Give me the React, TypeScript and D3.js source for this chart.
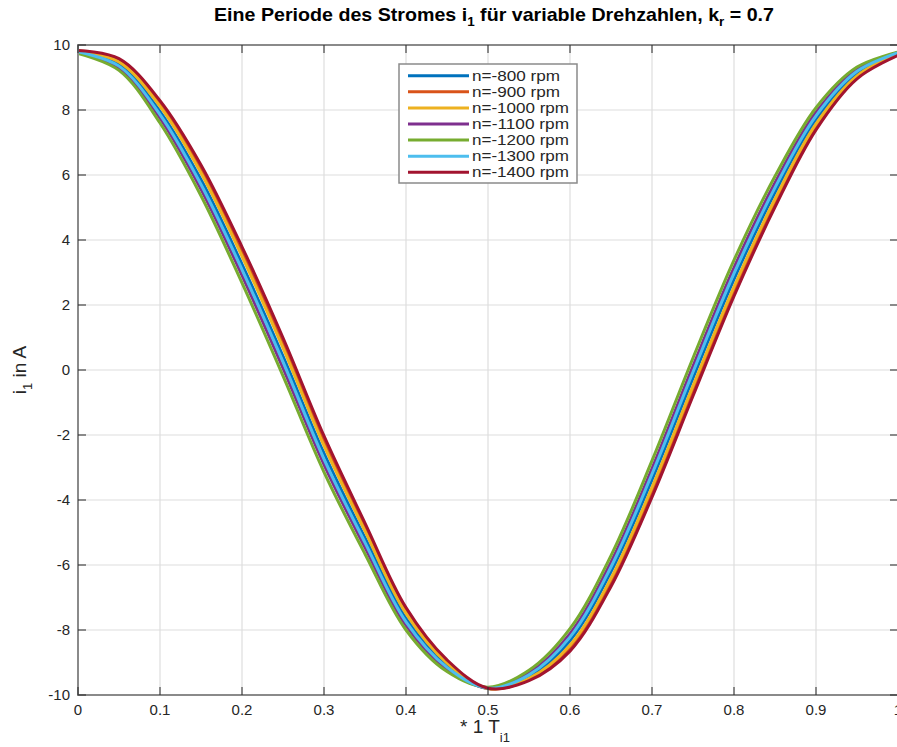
import React from 'react';
import * as d3 from 'd3';

// Time axis (fraction of one period T_i1)
const tValues = [0, 0.05, 0.1, 0.15, 0.2, 0.25, 0.3, 0.35, 0.4, 0.45, 0.5, 0.55, 0.6, 0.65, 0.7, 0.75, 0.8, 0.85, 0.9, 0.95, 1.0];

const speedLabels = ['n=-800 rpm', 'n=-900 rpm', 'n=-1000 rpm', 'n=-1100 rpm', 'n=-1200 rpm', 'n=-1300 rpm', 'n=-1400 rpm'];
const seriesColors = ['#0072BD', '#D95319', '#EDB120', '#7E2F8E', '#77AC30', '#4DBEEE', '#A2142F'];

const i800 = [9.80, 9.41, 7.96, 5.86, 3.26, 0.43, -2.56, -5.16, -7.64, -9.09, -9.80, -9.44, -8.33, -6.21, -3.38, -0.25, 2.79, 5.46, 7.71, 9.13, 9.75];
const i900 = [9.82, 9.52, 8.18, 6.16, 3.61, 0.80, -2.21, -4.86, -7.42, -8.98, -9.80, -9.52, -8.54, -6.51, -3.73, -0.62, 2.44, 5.16, 7.49, 9.02, 9.71];
const i1000 = [9.81, 9.48, 8.11, 6.06, 3.50, 0.68, -2.33, -4.96, -7.49, -9.02, -9.80, -9.49, -8.47, -6.41, -3.61, -0.49, 2.56, 5.26, 7.57, 9.05, 9.73];
const i1100 = [9.78, 9.30, 7.75, 5.56, 2.91, 0.06, -2.91, -5.46, -7.86, -9.21, -9.78, -9.32, -8.11, -5.91, -3.03, 0.12, 3.15, 5.76, 7.93, 9.25, 9.77];
const i1200 = [9.74, 9.22, 7.60, 5.36, 2.68, -0.18, -3.14, -5.66, -8.00, -9.28, -9.76, -9.24, -7.96, -5.71, -2.79, 0.37, 3.38, 5.96, 8.07, 9.32, 9.78];
const i1300 = [9.79, 9.35, 7.86, 5.71, 3.09, 0.25, -2.74, -5.31, -7.75, -9.15, -9.79, -9.38, -8.22, -6.06, -3.20, -0.06, 2.97, 5.61, 7.82, 9.19, 9.76];
const i1400 = [9.83, 9.58, 8.29, 6.31, 3.79, 0.99, -2.03, -4.71, -7.31, -8.92, -9.79, -9.56, -8.65, -6.66, -3.91, -0.80, 2.27, 5.01, 7.39, 8.96, 9.68];

const seriesValues = [i800, i900, i1000, i1100, i1200, i1300, i1400];

const xTicks = [0, 0.1, 0.2, 0.3, 0.4, 0.5, 0.6, 0.7, 0.8, 0.9, 1];
const xTickLabels = ['0', '0.1', '0.2', '0.3', '0.4', '0.5', '0.6', '0.7', '0.8', '0.9', '1'];
const yTicks = [-10, -8, -6, -4, -2, 0, 2, 4, 6, 8, 10];
const yTickLabels = ['-10', '-8', '-6', '-4', '-2', '0', '2', '4', '6', '8', '10'];

const W = 897;
const H = 747;
const L = 78;
const R = 898;
const T = 45;
const B = 695;
const FONT = "'Liberation Sans', Arial, Helvetica, sans-serif";
const TXT = '#262626';

export default function App() {
  const x = d3.scaleLinear().domain([0, 1]).range([L, R]);
  const y = d3.scaleLinear().domain([-10, 10]).range([B, T]);
  const line = d3
    .line<number>()
    .x((_, k) => x(tValues[k]))
    .y((d) => y(d))
    .curve(d3.curveCatmullRom.alpha(0.5));

  const tickLen = 8;
  const legX = 399;
  const legY = 64;
  const legW = 178;
  const legH = 119;
  const rowY = (k: number) => 75.7 + k * 16.1;

  return (
    <svg
      width={W}
      height={H}
      viewBox={`0 0 ${W} ${H}`}
      style={{ position: 'absolute', left: 0, top: 0, background: '#fff' }}
      fontFamily={FONT}
    >
      <defs>
        <clipPath id="plotClip">
          <rect x={L} y={T - 3} width={R - L} height={B - T + 6} />
        </clipPath>
      </defs>
      <rect x={0} y={0} width={W} height={H} fill="#fff" />

      {/* grid */}
      <g stroke="#dedede" strokeWidth={1.2}>
        {xTicks.map((t) => (
          <line key={'gx' + t} x1={x(t)} x2={x(t)} y1={T} y2={B} />
        ))}
        {yTicks.map((v) => (
          <line key={'gy' + v} x1={L} x2={R} y1={y(v)} y2={y(v)} />
        ))}
      </g>

      {/* curves */}
      <g clipPath="url(#plotClip)" fill="none" strokeWidth={3} strokeLinejoin="round" strokeLinecap="round">
        {seriesValues.map((vals, k) => (
          <path key={'s' + k} d={line(vals) || ''} stroke={seriesColors[k]} />
        ))}
      </g>

      {/* axes box */}
      <rect x={L} y={T} width={R - L} height={B - T} fill="none" stroke="#8a8a8a" strokeWidth={2} />

      {/* ticks */}
      <g stroke={TXT} strokeWidth={1}>
        {xTicks.map((t) => (
          <g key={'tx' + t}>
            <line x1={x(t)} x2={x(t)} y1={B} y2={B - tickLen} />
            <line x1={x(t)} x2={x(t)} y1={T} y2={T + tickLen} />
          </g>
        ))}
        {yTicks.map((v) => (
          <g key={'ty' + v}>
            <line x1={L} x2={L + tickLen} y1={y(v)} y2={y(v)} />
            <line x1={R} x2={R - tickLen} y1={y(v)} y2={y(v)} />
          </g>
        ))}
      </g>

      {/* tick labels */}
      <g fill={TXT} fontSize={15}>
        {xTicks.map((t, k) => (
          <text key={'lx' + t} x={x(t)} y={715} textAnchor="middle">
            {xTickLabels[k]}
          </text>
        ))}
        {yTicks.map((v, k) => (
          <text key={'ly' + v} x={70} y={y(v) + 5} textAnchor="end">
            {yTickLabels[k]}
          </text>
        ))}
      </g>

      {/* title */}
      <text x={494} y={21} textAnchor="middle" fontSize={19} fontWeight="bold" fill="#000" textLength={560} lengthAdjust="spacingAndGlyphs">
        Eine Periode des Stromes i
        <tspan fontSize={13} dy={5}>1</tspan>
        <tspan dy={-5}> für variable Drehzahlen, k</tspan>
        <tspan fontSize={13} dy={5}>r</tspan>
        <tspan dy={-5}> = 0.7</tspan>
      </text>

      {/* x label */}
      <text x={485} y={733} textAnchor="middle" fontSize={19} fill={TXT}>
        * 1 T
        <tspan fontSize={13} dy={9}>i1</tspan>
      </text>

      {/* y label */}
      <text transform={`translate(26,370) rotate(-90)`} textAnchor="middle" fontSize={19} fill={TXT}>
        i<tspan fontSize={13} dy={6}>1</tspan>
        <tspan dy={-6}> in A</tspan>
      </text>

      {/* legend */}
      <rect x={legX} y={legY} width={legW} height={legH} fill="#fff" stroke="#8a8a8a" strokeWidth={1.5} />
      {speedLabels.map((lab, k) => (
        <g key={'lg' + k}>
          <line x1={408} x2={469} y1={rowY(k)} y2={rowY(k)} stroke={seriesColors[k]} strokeWidth={3} />
          <text
            x={472}
            y={rowY(k) + 5}
            fontSize={15}
            fill={TXT}
            textLength={lab.length > 10 ? 97 : 88}
            lengthAdjust="spacingAndGlyphs"
          >
            {lab}
          </text>
        </g>
      ))}
    </svg>
  );
}
